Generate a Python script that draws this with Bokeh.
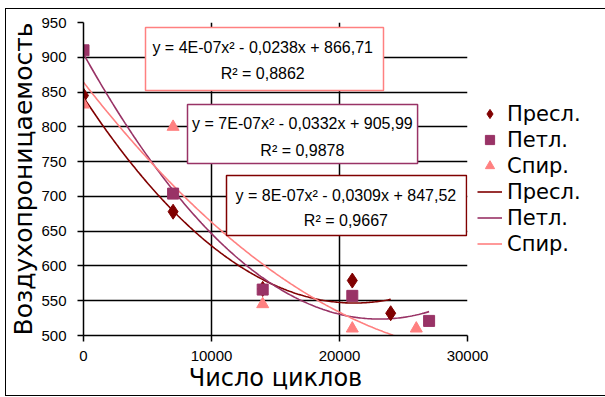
import numpy as np
from bokeh.plotting import figure
from bokeh.models import (Range1d, FixedTicker, BasicTickFormatter, Label,
                          BoxAnnotation, Legend, LegendItem)
from bokeh.embed import file_html
from bokeh.resources import INLINE

# ---- data ----
x_presl = [0, 7000, 14000, 21000, 24000]
y_presl = [845, 678, 567, 579, 532]
x_petl = [0, 7000, 14000, 21000, 27000]
y_petl = [910, 704, 566, 557, 521]
x_spir = [0, 7000, 14000, 21000, 26000]
y_spir = [832, 800, 545, 510, 510]

series_names = ["Пресл.", "Петл.", "Спир."]
eq_spir = ["y = 4E-07x² - 0,0238x + 866,71", "R² = 0,8862"]
eq_petl = ["y = 7E-07x² - 0,0332x + 905,99", "R² = 0,9878"]
eq_presl = ["y = 8E-07x² - 0,0309x + 847,52", "R² = 0,9667"]
x_ticks = [0, 10000, 20000, 30000]
y_ticks = [500, 550, 600, 650, 700, 750, 800, 850, 900, 950]
x_title = "Число циклов"
y_title = "Воздухопроницаемость"

C_PRESL = "#800000"
C_PETL = "#993366"
C_SPIR = "#FF8080"

p = figure(width=580, height=386, output_backend="svg", toolbar_location=None,
           x_range=Range1d(0, 30000), y_range=Range1d(500, 950),
           frame_width=384, frame_height=313,
           min_border_left=73, min_border_right=123, min_border_top=13,
           min_border_bottom=60)
p.margin = (8, 0, 0, 5)
p.styles = {"border": "1px solid black"}
p.outline_line_color = None
p.background_fill_color = "white"
p.border_fill_color = "white"

for ax in (p.xaxis[0], p.yaxis[0]):
    ax.axis_line_color = "black"
    ax.axis_line_width = 1.5
    ax.major_tick_line_color = "black"
    ax.major_tick_line_width = 1.5
    ax.major_tick_out = 6
    ax.major_tick_in = 0
    ax.minor_tick_line_color = None
    ax.major_label_text_font = "Liberation Sans"
    ax.major_label_text_font_size = "15px"
    ax.major_label_text_color = "black"
    ax.axis_label_text_font = "DejaVu Sans"
    ax.axis_label_text_font_style = "normal"
    ax.axis_label_text_color = "black"

p.xaxis.major_label_standoff = 9
p.yaxis.major_label_standoff = 11
p.xaxis.axis_label = x_title
p.yaxis.axis_label = y_title
p.xaxis.axis_label_text_font_size = "24px"
p.yaxis.axis_label_text_font_size = "25px"
p.xaxis.axis_label_standoff = 0
p.yaxis.axis_label_standoff = 0

p.xaxis.ticker = FixedTicker(ticks=x_ticks)
p.yaxis.ticker = FixedTicker(ticks=y_ticks)
p.xaxis.formatter = BasicTickFormatter(use_scientific=False)

p.xgrid.ticker = FixedTicker(ticks=x_ticks)
p.ygrid.ticker = FixedTicker(ticks=y_ticks)
for g in (p.xgrid[0], p.ygrid[0]):
    g.grid_line_color = "black"
    g.grid_line_width = 1.5
    g.grid_line_alpha = 1.0

# ---- trendlines (quadratic least-squares fits of the data) ----
def trend(xs, ys):
    c = np.polyfit(np.array(xs, float), np.array(ys, float), 2)
    xx = np.linspace(min(xs), max(xs), 200)
    return xx, np.polyval(c, xx)

tx, ty = trend(x_presl, y_presl)
l_presl = p.line(tx, ty, line_color=C_PRESL, line_width=1.6)
tx, ty = trend(x_petl, y_petl)
l_petl = p.line(tx, ty, line_color=C_PETL, line_width=1.6)
tx, ty = trend(x_spir, y_spir)
l_spir = p.line(tx, ty, line_color=C_SPIR, line_width=1.6)

m_presl = p.scatter(x_presl, y_presl, marker="diamond", size=15,
                    fill_color=C_PRESL, line_color=C_PRESL)
m_petl = p.scatter(x_petl, y_petl, marker="square", size=11,
                   fill_color=C_PETL, line_color=C_PETL)
m_spir = p.scatter(x_spir, y_spir, marker="triangle", size=12,
                   fill_color=C_SPIR, line_color=C_SPIR)

# ---- equation boxes ----
def eq_box(left, right, top, bottom, color, lines, xc, y1, y2):
    p.add_layout(BoxAnnotation(left=left, right=right, top=top, bottom=bottom,
                               fill_color="white", fill_alpha=1.0,
                               line_color=color, line_width=1.5, line_alpha=1.0))
    for t, yy in zip(lines, (y1, y2)):
        p.add_layout(Label(x=xc, y=yy, text=t, text_align="center",
                           text_baseline="middle", text_font="Liberation Sans",
                           text_font_size="16px", text_color="black"))

eq_box(4844, 23437, 942.8, 852.2, C_SPIR, eq_spir, 14000, 914, 877)
eq_box(8125, 26100, 832.1, 747.3, C_PETL, eq_petl, 17100, 805, 766)
eq_box(11172, 29922, 730.0, 643.8, C_PRESL, eq_presl, 20500, 701, 665)

# ---- legend ----
legend = Legend(items=[
    LegendItem(label=series_names[0], renderers=[m_presl]),
    LegendItem(label=series_names[1], renderers=[m_petl]),
    LegendItem(label=series_names[2], renderers=[m_spir]),
    LegendItem(label=series_names[0], renderers=[l_presl]),
    LegendItem(label=series_names[1], renderers=[l_petl]),
    LegendItem(label=series_names[2], renderers=[l_spir]),
], location="center_left", orientation="vertical")
legend.label_text_font = "DejaVu Sans"
legend.label_text_font_size = "21px"
legend.label_text_color = "black"
legend.glyph_width = 25
legend.glyph_height = 23
legend.label_height = 23
legend.spacing = 2
legend.label_standoff = 5
legend.padding = 0
legend.margin = 10
legend.border_line_color = None
legend.background_fill_alpha = 0
p.add_layout(legend, "right")

open("out.html", "w").write(file_html(p, INLINE))
